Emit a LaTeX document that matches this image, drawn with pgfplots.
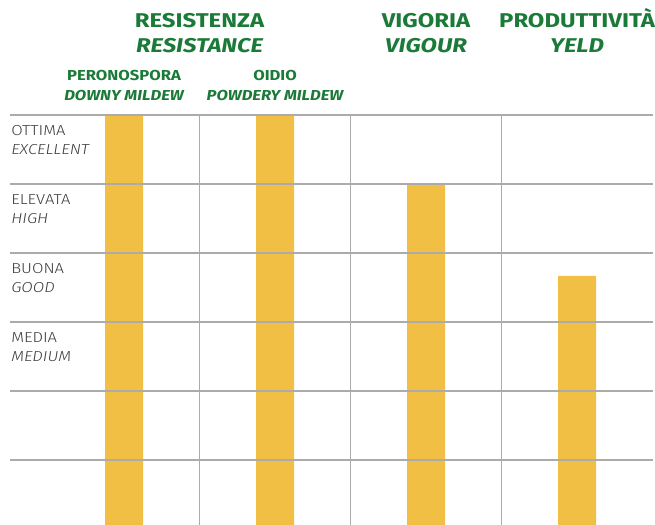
\documentclass[border=0pt]{standalone}
\usepackage{pgfplots}
\pgfplotsset{compat=1.18}
\usepackage{fontspec}
\setmainfont{Fira Sans}
\newfontfamily\hdrf{Fira Sans}[FakeStretch=1.2]
\newfontfamily\subf{Fira Sans}[FakeStretch=1.15]
\newfontfamily\lightf{Fira Sans Light}[FakeStretch=1.15]

\definecolor{barY}{HTML}{F1BF44}
\definecolor{hdrG}{HTML}{1B7A38}
\definecolor{lblG}{HTML}{3C3C3C}
\definecolor{gridG}{HTML}{ABABAB}

\tikzset{
    hdr/.style={anchor=base, inner sep=0pt, text=hdrG, font=\fontsize{20}{20}\hdrf\bfseries},
    sub/.style={anchor=base, inner sep=0pt, text=hdrG, font=\fontsize{14.5}{14.5}\subf\bfseries},
    lbl/.style={anchor=base west, inner sep=0pt, text=lblG, font=\fontsize{14.5}{14.5}\lightf},
}

% levels: 1 = lowest line ... 6 = OTTIMA
\pgfplotstableread{
x level
0 6
1 6
2 5
3 3.67
}\ratings

\begin{document}
\begin{tikzpicture}
\begin{axis}[
    name=a,
    scale only axis,
    width=643bp, height=410bp,
    xmin=-0.755, xmax=3.503,
    ymin=0.058, ymax=6,
    axis line style={draw=none},
    major tick length=0pt,
    xtick={0.5,1.5,2.5}, xticklabels={},
    ytick={1,2,3,4,5,6}, yticklabels={},
    xmajorgrids, ymajorgrids,
    major grid style={gridG, line width=1.3bp},
    axis on top,
    clip mode=individual,
    ybar, bar width=38bp,
]
\addplot[fill=barY, draw=none, bar shift=0pt] table[x=x, y=level] {\ratings};

% column headers
\node[hdr, yshift=87bp] at (axis cs:0.5,6) {RESISTENZA};
\node[hdr, yshift=62bp] at (axis cs:0.5,6) {\itshape RESISTANCE};
\node[hdr, yshift=87bp] at (axis cs:2,6) {VIGORIA};
\node[hdr, yshift=62bp] at (axis cs:2,6) {\itshape VIGOUR};
\node[hdr, yshift=87bp] at (axis cs:3,6) {PRODUTTIVITÀ};
\node[hdr, yshift=62bp] at (axis cs:3,6) {\itshape YELD};
\node[sub, yshift=34bp] at (axis cs:0,6) {PERONOSPORA};
\node[sub, yshift=14bp] at (axis cs:0,6) {\itshape DOWNY MILDEW};
\node[sub, yshift=34bp] at (axis cs:1,6) {OIDIO};
\node[sub, yshift=14bp] at (axis cs:1,6) {\itshape POWDERY MILDEW};

% rating labels
\node[lbl, yshift=-21bp] at (axis cs:-0.748,6) {OTTIMA};
\node[lbl, yshift=-40bp] at (axis cs:-0.748,6) {\itshape EXCELLENT};
\node[lbl, yshift=-21bp] at (axis cs:-0.748,5) {ELEVATA};
\node[lbl, yshift=-40bp] at (axis cs:-0.748,5) {\itshape HIGH};
\node[lbl, yshift=-21bp] at (axis cs:-0.748,4) {BUONA};
\node[lbl, yshift=-40bp] at (axis cs:-0.748,4) {\itshape GOOD};
\node[lbl, yshift=-21bp] at (axis cs:-0.748,3) {MEDIA};
\node[lbl, yshift=-40bp] at (axis cs:-0.748,3) {\itshape MEDIUM};
\end{axis}
\pgfresetboundingbox
\path ([xshift=-10bp]a.south west) rectangle ([xshift=2bp,yshift=115bp]a.north east);
\end{tikzpicture}
\end{document}
